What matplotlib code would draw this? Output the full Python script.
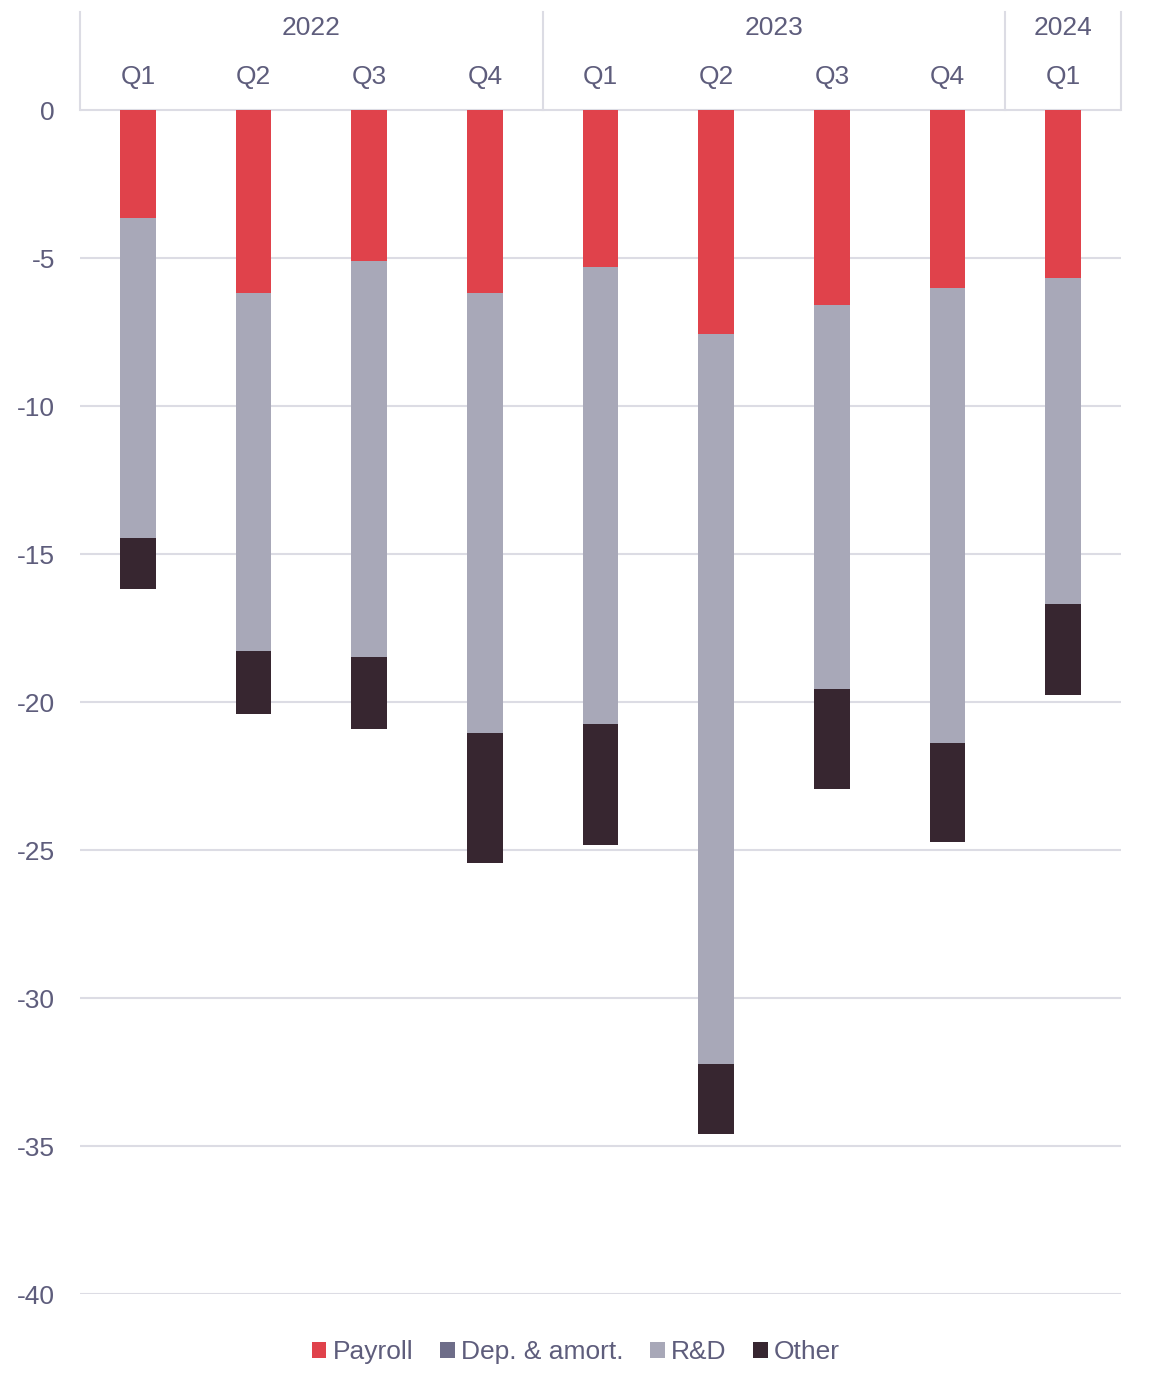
import matplotlib
matplotlib.use("Agg")
import matplotlib.pyplot as plt
import numpy as np

plt.rcParams['font.family'] = ['Liberation Sans', 'DejaVu Sans']

years = ["2022", "2022", "2022", "2022", "2023", "2023", "2023", "2023", "2024"]
quarters = ["Q1", "Q2", "Q3", "Q4", "Q1", "Q2", "Q3", "Q4", "Q1"]
payroll = [-3.65, -6.18, -5.10, -6.18, -5.30, -7.57, -6.59, -6.01, -5.68]
dep_amort = [0, 0, 0, 0, 0, 0, 0, 0, 0]
rnd = [-10.81, -12.10, -13.38, -14.87, -15.44, -24.66, -12.97, -15.38, -11.01]
other = [-1.72, -2.13, -2.43, -4.39, -4.09, -2.36, -3.38, -3.34, -3.07]
yticks = [0, -5, -10, -15, -20, -25, -30, -35, -40]

series = [("Payroll", payroll, "#e0424b"),
          ("Dep. & amort.", dep_amort, "#6e6d89"),
          ("R&D", rnd, "#a8a8b8"),
          ("Other", other, "#372630")]

text_col = "#5e5d7c"
grid_col = "#dcdce4"
fs = 19

W, H = 1152, 1392
fig = plt.figure(figsize=(W / 100, H / 100), dpi=100)
ytop = 3.38
ybot = -40
ax = fig.add_axes([80 / W, 1 - 1294 / H, (1121 - 80) / W, (1294 - 10) / H])

x = np.arange(len(quarters))
bottom = np.zeros(len(quarters))
handles = []
for name, vals, col in series:
    v = np.array(vals, dtype=float)
    b = ax.bar(x, v, bottom=bottom, width=0.31, color=col, linewidth=0, label=name, zorder=3)
    handles.append(b)
    bottom = bottom + v

ax.set_xlim(-0.5, len(quarters) - 0.5)
ax.set_ylim(ybot, ytop)
for s in ax.spines.values():
    s.set_visible(False)
ax.set_xticks([])
ax.set_yticks(yticks)
ax.set_yticklabels([str(t) for t in yticks], fontsize=fs, color=text_col)
ax.tick_params(axis='y', length=0, pad=18)
for t in yticks:
    ax.axhline(t, color=grid_col, lw=1.5, zorder=1)

# header
for i, q in enumerate(quarters):
    ax.text(i, 1.1, q, ha='center', va='center', fontsize=fs, color=text_col)
groups = {}
for i, yv in enumerate(years):
    groups.setdefault(yv, []).append(i)
bounds = [-0.5]
for yv, idx in groups.items():
    ax.text((idx[0] + idx[-1]) / 2, 2.78, yv, ha='center', va='center', fontsize=fs, color=text_col)
    bounds.append(idx[-1] + 0.5)
for bx in bounds:
    ax.plot([bx, bx], [0, ytop - 0.08], color=grid_col, lw=1.5, zorder=1, clip_on=False)

leg = fig.legend(handles=handles, labels=[s[0] for s in series], loc='center',
                 bbox_to_anchor=(0.5, 1 - 1352 / H), ncol=4, frameon=False,
                 fontsize=fs, handlelength=0.55, handleheight=0.55, handletextpad=0.25,
                 columnspacing=1.0)
for t in leg.get_texts():
    t.set_color(text_col)

fig.savefig("out.png", dpi=100)
